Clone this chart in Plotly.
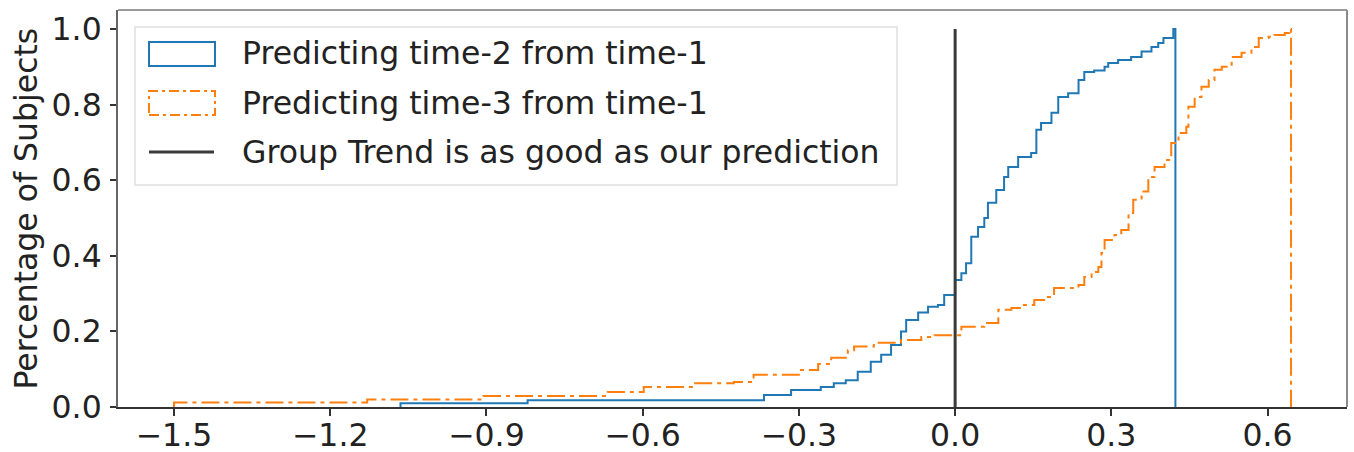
import plotly.graph_objects as go

# ---------------- data ----------------
# Cumulative step histogram 1: x where the level changes, level after change
blue_x = [-1.065, -0.821, -0.367, -0.315, -0.258, -0.233, -0.210, -0.187, -0.162,
          -0.142, -0.123, -0.104, -0.094, -0.071, -0.052, -0.033, -0.021, 0.000,
          0.012, 0.021, 0.031, 0.044, 0.056, 0.063, 0.079, 0.094, 0.102, 0.121,
          0.146, 0.156, 0.165, 0.185, 0.198, 0.217, 0.237, 0.248, 0.267, 0.287,
          0.294, 0.313, 0.338, 0.358, 0.377, 0.390, 0.400, 0.419]
blue_y = [0.010, 0.018, 0.032, 0.045, 0.053, 0.063, 0.071, 0.093, 0.120,
          0.138, 0.164, 0.200, 0.230, 0.250, 0.265, 0.270, 0.296, 0.336,
          0.354, 0.380, 0.450, 0.476, 0.500, 0.540, 0.574, 0.608, 0.635, 0.661,
          0.672, 0.733, 0.751, 0.778, 0.820, 0.830, 0.865, 0.886, 0.890, 0.900,
          0.910, 0.918, 0.926, 0.940, 0.952, 0.963, 0.976, 1.000]
blue_end = 0.423

orange_x = [-1.500, -1.129, -0.906, -0.667, -0.598, -0.502, -0.425, -0.387, -0.296,
            -0.263, -0.238, -0.206, -0.194, -0.156, -0.104, -0.065, -0.040, 0.012,
            0.056, 0.083, 0.108, 0.127, 0.152, 0.171, 0.190, 0.237, 0.248, 0.262,
            0.275, 0.281, 0.287, 0.306, 0.319, 0.333, 0.342, 0.358, 0.371, 0.383,
            0.402, 0.415, 0.429, 0.444, 0.448, 0.460, 0.473, 0.487, 0.498, 0.512,
            0.531, 0.550, 0.569, 0.583, 0.602, 0.613, 0.633, 0.642]
orange_y = [0.012, 0.020, 0.029, 0.040, 0.053, 0.063, 0.066, 0.085, 0.098,
            0.114, 0.130, 0.150, 0.160, 0.170, 0.177, 0.185, 0.190, 0.212,
            0.222, 0.257, 0.262, 0.270, 0.283, 0.291, 0.315, 0.323, 0.344, 0.357,
            0.370, 0.407, 0.442, 0.455, 0.468, 0.513, 0.548, 0.570, 0.608, 0.635,
            0.653, 0.698, 0.725, 0.741, 0.794, 0.820, 0.847, 0.865, 0.892, 0.900,
            0.926, 0.937, 0.952, 0.976, 0.979, 0.984, 0.989, 1.000]
orange_end = 0.645

ref_x = [0.0, 0.0]
ref_y = [0.0, 1.0]

series_names = ["Predicting time-2 from time-1",
                "Predicting time-3 from time-1",
                "Group Trend is as good as our prediction"]

x_tick_vals = [-1.5, -1.2, -0.9, -0.6, -0.3, 0.0, 0.3, 0.6]
x_tick_labels = ["\u22121.5", "\u22121.2", "\u22120.9", "\u22120.6", "\u22120.3", "0.0", "0.3", "0.6"]
y_tick_vals = [0.0, 0.2, 0.4, 0.6, 0.8, 1.0]
y_tick_labels = ["0.0", "0.2", "0.4", "0.6", "0.8", "1.0"]
y_title = "Percentage of Subjects"

# ---------------- styling ----------------
W, H = 1354, 452
L, R, T, B = 118, 1347, 10, 407
FONT = "DejaVu Sans"
FS = 31.5
BLUE = "#1f77b4"
ORANGE = "#ff7f0e"
DASHDOT = "18px,5px,4px,5px"


def step_path(xs, ys, xend):
    px = [xs[0]] + list(xs) + [xend, xend]
    py = [0.0] + list(ys) + [ys[-1], 0.0]
    return px, py


def px2paper(x, y):
    return (x - L) / (R - L), (B - y) / (B - T)


fig = go.Figure()
bx, by = step_path(blue_x, blue_y, blue_end)
ox, oy = step_path(orange_x, orange_y, orange_end)
fig.add_trace(go.Scatter(x=bx, y=by, mode="lines", line_shape="hv",
                         line=dict(color=BLUE, width=2), name=series_names[0],
                         showlegend=False))
fig.add_trace(go.Scatter(x=ox, y=oy, mode="lines", line_shape="hv",
                         line=dict(color=ORANGE, width=2, dash=DASHDOT),
                         name=series_names[1], showlegend=False))
fig.add_trace(go.Scatter(x=ref_x, y=ref_y, mode="lines",
                         line=dict(color="#3a3a3a", width=3), name=series_names[2],
                         showlegend=False))

shapes = []
# top / right spines (lighter)
shapes.append(dict(type="line", xref="paper", yref="paper", x0=0, x1=1, y0=1, y1=1,
                   line=dict(color="#9a9a9a", width=2), layer="above"))
shapes.append(dict(type="line", xref="paper", yref="paper", x0=1, x1=1, y0=0, y1=1,
                   line=dict(color="#8a8a8a", width=2), layer="above"))

# legend box
lx0, ly0 = px2paper(135, 185)
lx1, ly1 = px2paper(897, 27)
shapes.append(dict(type="rect", xref="paper", yref="paper", x0=lx0, x1=lx1, y0=ly0, y1=ly1,
                   line=dict(color="#e0e0e0", width=1.5), fillcolor="rgba(255,255,255,0.85)",
                   layer="above"))
# legend handles
a0, b0 = px2paper(149, 66)
a1, b1 = px2paper(215, 42)
shapes.append(dict(type="rect", xref="paper", yref="paper", x0=a0, x1=a1, y0=b0, y1=b1,
                   line=dict(color=BLUE, width=2), layer="above"))
a0, b0 = px2paper(149, 115)
a1, b1 = px2paper(215, 91)
shapes.append(dict(type="rect", xref="paper", yref="paper", x0=a0, x1=a1, y0=b0, y1=b1,
                   line=dict(color=ORANGE, width=2, dash="10px,4px,3px,4px"), layer="above"))
a0, b0 = px2paper(149, 152)
a1, _ = px2paper(214, 152)
shapes.append(dict(type="line", xref="paper", yref="paper", x0=a0, x1=a1, y0=b0, y1=b0,
                   line=dict(color="#3a3a3a", width=3), layer="above"))

annotations = []
for name, cy in zip(series_names, [53, 103, 152]):
    ax, ay = px2paper(240, cy)
    annotations.append(dict(text=name, xref="paper", yref="paper", x=ax, y=ay,
                            xanchor="left", yanchor="middle", showarrow=False,
                            font=dict(family=FONT, size=FS, color="#222")))
tx, ty = px2paper(25, (T + B) / 2)
annotations.append(dict(text=y_title, xref="paper", yref="paper", x=tx, y=ty,
                        xanchor="center", yanchor="middle", textangle=-90, showarrow=False,
                        font=dict(family=FONT, size=FS, color="#222")))

fig.update_layout(
    width=W, height=H,
    margin=dict(l=L, r=W - R, t=T, b=H - B, pad=0),
    paper_bgcolor="white", plot_bgcolor="white",
    font=dict(family=FONT, size=FS, color="#222"),
    shapes=shapes, annotations=annotations,
    showlegend=False,
)
fig.update_xaxes(range=[-1.6075, 0.7525], tickvals=x_tick_vals, ticktext=x_tick_labels,
                 showgrid=False, zeroline=False, showline=True, linecolor="#333",
                 linewidth=2, ticks="outside", ticklen=7, tickwidth=2, tickcolor="#333",
                 ticklabelstandoff=-8,
                 tickfont=dict(family=FONT, size=FS, color="#222"), automargin=False)
fig.update_yaxes(range=[0, 1.05], tickvals=y_tick_vals, ticktext=y_tick_labels,
                 showgrid=False, zeroline=False, showline=True, linecolor="#666",
                 linewidth=2, ticks="outside", ticklen=6, tickwidth=2, tickcolor="#333",
                 ticklabelstandoff=2,
                 tickfont=dict(family=FONT, size=FS, color="#222"), automargin=False)

fig.write_html("out.html")
